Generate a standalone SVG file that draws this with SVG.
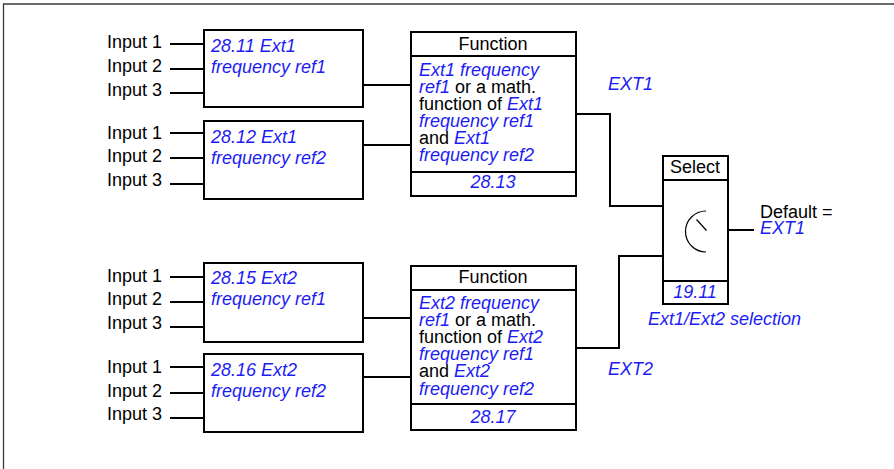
<svg xmlns="http://www.w3.org/2000/svg" width="894" height="469" viewBox="0 0 894 469">
<style>
text{font-family:"Liberation Sans",Arial,sans-serif;font-size:18px;fill:#000}
.b{fill:#1c1cf5;font-style:italic}
.k{fill:#000;font-style:normal}
.box{fill:#fff;stroke:#000;stroke-width:2}
.ln{fill:none;stroke:#000;stroke-width:2}
.c{text-anchor:middle}
</style>
<rect x="0" y="0" width="894" height="469" fill="#fff"/>
<path d="M3.5,469 V4 H894" fill="none" stroke="#3a3a3a" stroke-width="1.3"/>

<g id="connectors">
<path class="ln" d="M170,44H204M170,69H204M170,93H204"/>
<path class="ln" d="M170,133H204M170,158H204M170,184H204"/>
<path class="ln" d="M170,277H204M170,302H204M170,327H204"/>
<path class="ln" d="M170,367H204M170,393H204M170,418H204"/>
<path class="ln" d="M363,85H411M363,145H411"/>
<path class="ln" d="M363,318H411M363,377H411"/>
<path class="ln" d="M576,114H610V206H663"/>
<path class="ln" d="M576,348H619V256H663"/>
<path class="ln" d="M728,230H754"/>
</g>

<g id="inputs1">
<text x="107" y="48">Input 1</text>
<text x="107" y="72">Input 2</text>
<text x="107" y="96">Input 3</text>
<text x="107" y="139">Input 1</text>
<text x="107" y="162">Input 2</text>
<text x="107" y="186">Input 3</text>
</g>
<g id="inputs2">
<text x="107" y="282">Input 1</text>
<text x="107" y="305">Input 2</text>
<text x="107" y="329">Input 3</text>
<text x="107" y="373">Input 1</text>
<text x="107" y="397">Input 2</text>
<text x="107" y="420">Input 3</text>
</g>

<g id="n2811">
<rect class="box" x="204" y="30" width="159" height="77"/>
<text class="b" x="211" y="52">28.11 Ext1</text>
<text class="b" x="211" y="73">frequency ref1</text>
</g>
<g id="n2812">
<rect class="box" x="204" y="121" width="159" height="78"/>
<text class="b" x="211" y="143">28.12 Ext1</text>
<text class="b" x="211" y="164">frequency ref2</text>
</g>
<g id="n2815">
<rect class="box" x="204" y="263" width="159" height="79"/>
<text class="b" x="211" y="284">28.15 Ext2</text>
<text class="b" x="211" y="305">frequency ref1</text>
</g>
<g id="n2816">
<rect class="box" x="204" y="354" width="159" height="78"/>
<text class="b" x="211" y="376">28.16 Ext2</text>
<text class="b" x="211" y="397">frequency ref2</text>
</g>

<g id="func1">
<rect class="box" x="411" y="32" width="165" height="164"/>
<path class="ln" d="M411,56H576M411,172H576"/>
<text class="c" x="493" y="50">Function</text>
<text class="b" x="419" y="76">Ext1 frequency</text>
<text x="419" y="93"><tspan class="b">ref1</tspan> or a math.</text>
<text x="419" y="110">function of <tspan class="b">Ext1</tspan></text>
<text class="b" x="419" y="127">frequency ref1</text>
<text x="419" y="144">and <tspan class="b">Ext1</tspan></text>
<text class="b" x="419" y="161">frequency ref2</text>
<text class="b c" x="493" y="188">28.13</text>
</g>
<g id="func2">
<rect class="box" x="411" y="266" width="165" height="164"/>
<path class="ln" d="M411,290H576M411,404H576"/>
<text class="c" x="493" y="283">Function</text>
<text class="b" x="419" y="309">Ext2 frequency</text>
<text x="419" y="326"><tspan class="b">ref1</tspan> or a math.</text>
<text x="419" y="343">function of <tspan class="b">Ext2</tspan></text>
<text class="b" x="419" y="360">frequency ref1</text>
<text x="419" y="377">and <tspan class="b">Ext2</tspan></text>
<text class="b" x="419" y="395">frequency ref2</text>
<text class="b c" x="493" y="423">28.17</text>
</g>

<g id="labels">
<text class="b" x="608" y="90">EXT1</text>
<text class="b" x="608" y="375">EXT2</text>
</g>

<g id="select">
<rect class="box" x="663" y="156" width="65" height="148"/>
<path class="ln" d="M663,180H728M663,281H728"/>
<text class="c" x="695" y="173">Select</text>
<path d="M706,211 A20.5,20.5 0 0 0 706,252" fill="none" stroke="#000" stroke-width="1.2"/>
<path d="M696.5,219.5 L706.5,230.5" fill="none" stroke="#000" stroke-width="1.2"/>
<text class="b c" x="695" y="298">19.11</text>
<text class="b" x="648" y="325">Ext1/Ext2 selection</text>
</g>
<g id="default">
<text x="760" y="218">Default =</text>
<text class="b" x="760" y="234">EXT1</text>
</g>
</svg>
